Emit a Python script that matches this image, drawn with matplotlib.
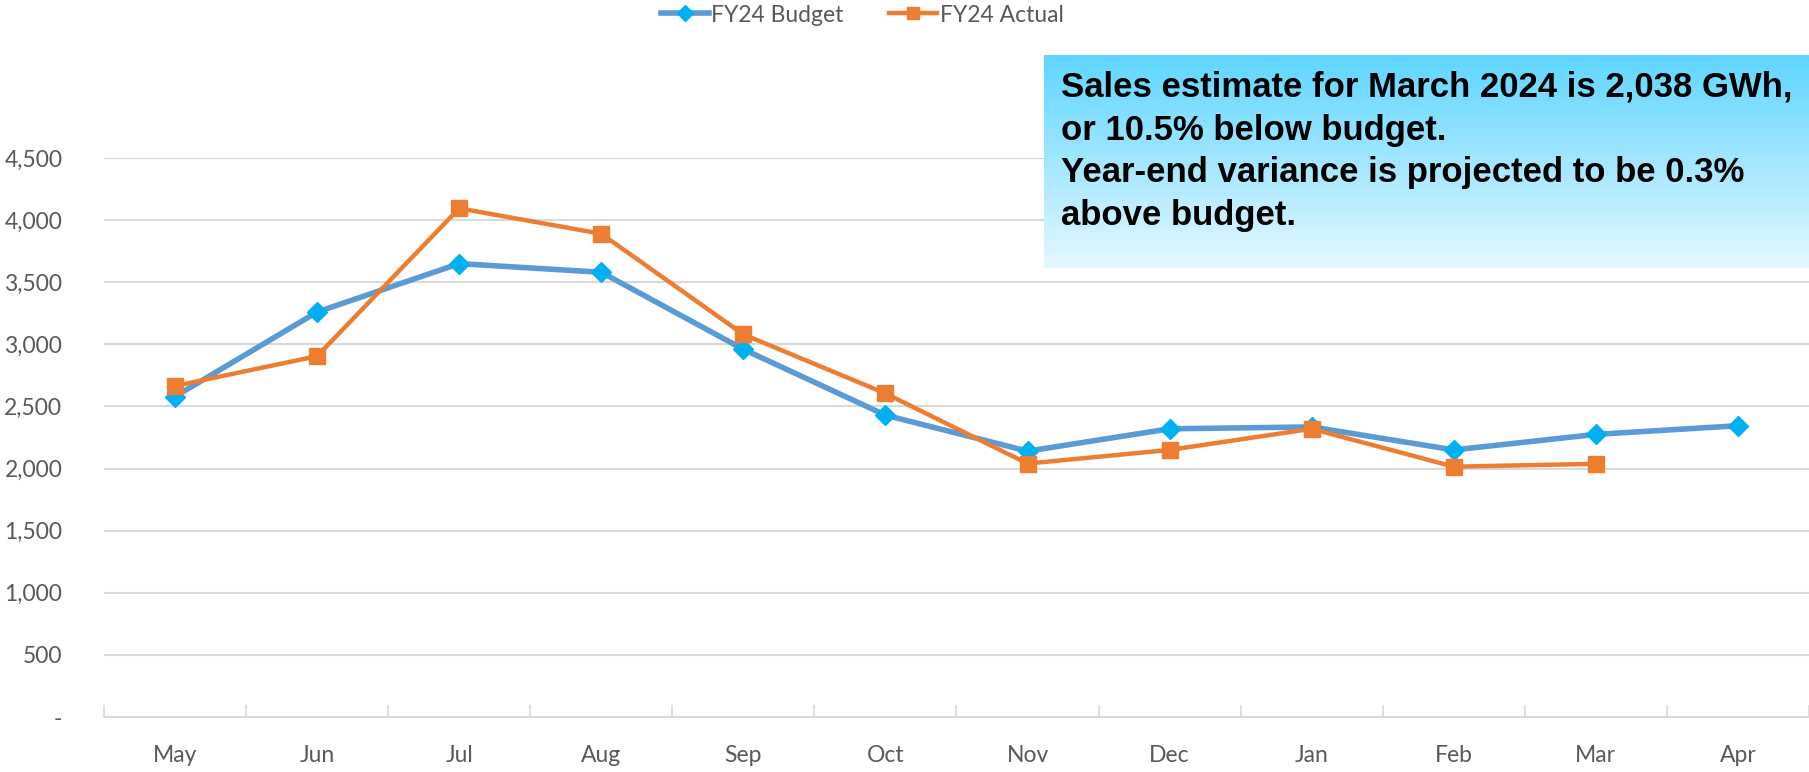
import numpy as np
import matplotlib.pyplot as plt
from matplotlib.ticker import FuncFormatter, FixedLocator

months = ["May", "Jun", "Jul", "Aug", "Sep", "Oct", "Nov", "Dec", "Jan", "Feb", "Mar", "Apr"]
budget = [2580, 3260, 3650, 3580, 2960, 2430, 2140, 2320, 2335, 2150, 2275, 2345]
actual = [2665, 2905, 4095, 3890, 3080, 2605, 2040, 2150, 2320, 2015, 2038]

note = ("Sales estimate for March 2024 is 2,038 GWh,\n"
        "or 10.5% below budget.\n"
        "Year-end variance is projected to be 0.3%\n"
        "above budget.")

W, H = 1809, 772
fig = plt.figure(figsize=(W / 100, H / 100), dpi=100)
ax = fig.add_axes([104 / W, 1 - 717 / H, 1 - 104 / W, (717 - 158) / H])

x = np.arange(len(months))
ax.plot(x, budget, color="#5b9bd5", lw=4, marker="D", ms=10,
        mfc="#00b0f0", mec="#00b0f0", label="FY24 Budget", zorder=3)
ax.plot(np.arange(len(actual)), actual, color="#ed7d31", lw=3.2, marker="s", ms=11,
        mfc="#ed7d31", mec="#ed7d31", label="FY24 Actual", zorder=4)

ax.set_xlim(-0.5, len(months) - 0.5)
ax.set_ylim(0, 4500)
ax.set_yticks(np.arange(0, 4501, 500))
ax.yaxis.set_major_formatter(FuncFormatter(lambda v, p: "-" if v == 0 else f"{int(v):,}"))
ax.grid(axis="y", color="#d9d9d9", lw=1.5)
ax.set_axisbelow(True)

ax.set_xticks(x)
ax.set_xticklabels(months)
ax.xaxis.set_minor_locator(FixedLocator(np.arange(-0.5, len(months), 1.0)))
ax.tick_params(axis="x", which="major", length=0, pad=20)
ax.tick_params(axis="x", which="minor", direction="in", length=9, width=1.2, color="#d9d9d9")
ax.tick_params(axis="y", length=0, pad=30)
for lab in ax.get_xticklabels() + ax.get_yticklabels():
    lab.set_fontfamily("Lato")
    lab.set_fontsize(16.5)
    lab.set_color("#595959")

for s in ["top", "right", "left"]:
    ax.spines[s].set_visible(False)
ax.spines["bottom"].set_color("#d9d9d9")
ax.spines["bottom"].set_linewidth(1.5)

fig.legend(loc="center", bbox_to_anchor=(862 / W, 1 - 15 / H), ncol=2, frameon=False,
           prop={"family": "Lato", "size": 16.5}, labelcolor="#595959",
           handlelength=2.1, columnspacing=2.0, handletextpad=0.1, markerscale=0.85)

# note box with vertical gradient
bx = fig.add_axes([1044 / W, 1 - 268 / H, (W - 1044) / W, (268 - 55) / H])
top = np.array([0.37, 0.84, 1.0])
bot = np.array([0.90, 0.97, 1.0])
t = np.linspace(0, 1, 256)[:, None]
grad = top * (1 - t) + bot * t
bx.imshow(grad[:, None, :].repeat(2, axis=1), aspect="auto", extent=[0, 1, 0, 1])
bx.set_axis_off()
bx.text(17 / (W - 1044), 0.925, note, transform=bx.transAxes, ha="left", va="top",
        family="Liberation Sans", weight="bold", fontsize=25, linespacing=1.37, color="black")

fig.savefig("out.png", dpi=100)
